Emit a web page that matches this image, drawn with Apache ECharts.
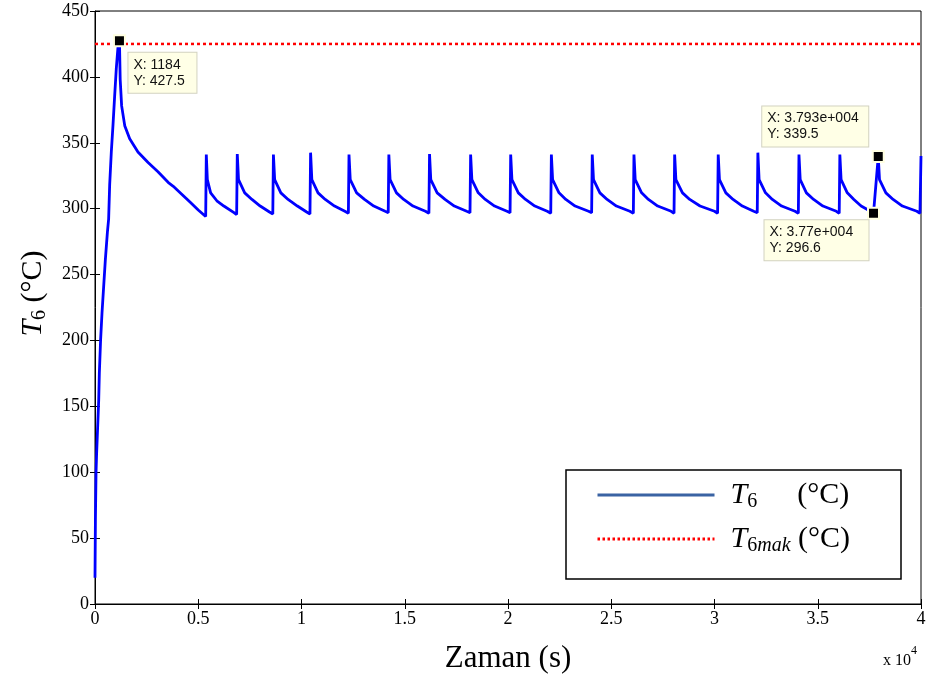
<!DOCTYPE html>
<html>
<head>
<meta charset="utf-8">
<script src="https://cdn.jsdelivr.net/npm/echarts@6/dist/echarts.min.js"></script>
<style>
  html, body { margin: 0; padding: 0; background: #fff; }
  #chart { width: 932px; height: 679px; }
</style>
</head>
<body>
<div id="chart"></div>
<script>
// start-up: time (s) and T6 (°C)
const startupTime = [0, 20, 50, 80, 130, 180, 210, 270, 340, 420, 500, 600, 660, 710, 790, 870, 950, 1030, 1110, 1184,
  1220, 1290, 1440, 1680, 2080, 2570, 3050, 3540, 3790, 4200, 4600, 5000, 5360]
const startupTemp = [20, 64, 100, 115, 135, 155, 175, 200, 221, 241, 261, 282, 292, 318, 343, 363, 385, 406, 422, 427.5,
  398, 378, 363, 353, 343, 335, 328, 320, 317, 311, 305, 299, 294]

// periodic part, one row per spike
const cycleTime = [
  [5390, 5440, 5600, 5900, 6240, 6730, 6860],
  [6890, 6950, 7250, 7600, 8000, 8450, 8610],
  [8640, 8700, 9000, 9350, 9800, 10250, 10410],
  [10440, 10500, 10800, 11150, 11600, 12100, 12270],
  [12300, 12360, 12670, 13050, 13500, 14050, 14200],
  [14230, 14290, 14600, 14950, 15400, 16000, 16170],
  [16200, 16260, 16570, 16950, 17400, 18000, 18160],
  [18190, 18250, 18560, 18900, 19350, 19950, 20100],
  [20130, 20190, 20500, 20850, 21300, 21900, 22070],
  [22100, 22160, 22470, 22800, 23250, 23900, 24050],
  [24080, 24140, 24450, 24800, 25250, 25900, 26070],
  [26100, 26160, 26470, 26800, 27250, 27900, 28040],
  [28070, 28130, 28450, 28800, 29300, 30000, 30150],
  [30180, 30240, 30550, 30900, 31350, 31900, 32070],
  [32100, 32160, 32470, 32800, 33250, 33900, 34060],
  [34090, 34150, 34450, 34800, 35250, 35900, 36040],
  [36070, 36130, 36430, 36750, 37100, 37550, 37700],
  [37930, 37990, 38300, 38650, 39100, 39800, 39950],
  [40000]
]
const cycleTemp = [
  [341, 322, 312, 306, 302, 297, 295.5],
  [341.5, 322, 312, 307, 302, 297.5, 296],
  [341, 322, 312, 307, 302, 297.5, 296],
  [342.5, 322, 312, 307, 302, 298, 296.5],
  [341, 322, 312, 307, 302, 298, 297],
  [341, 322, 312, 307, 302, 298, 296.5],
  [341.5, 322, 312, 307, 302, 298, 297],
  [341, 322, 312, 307, 302, 298, 297],
  [341, 322, 312, 307, 302, 298, 296.5],
  [341, 322, 312, 307, 302, 298, 297],
  [341, 322, 312, 307, 302, 298, 296.5],
  [341, 322, 312, 307, 302, 298, 296.5],
  [341, 322, 312, 307, 302, 298, 296.5],
  [341, 322, 312, 307, 302, 298, 297],
  [342.5, 322, 312, 307, 302, 298, 296.5],
  [341, 322, 312, 307, 302, 298, 296.5],
  [341, 322, 312, 307, 302, 298, 296.6],
  [339.5, 322, 312, 307, 302, 298, 296.5],
  [340]
]

const t6MaxLimit = 425
const dataTips = [[1184, 427.5], [37930, 339.5], [37700, 296.6]]
const xTickLabels = ['0', '0.5', '1', '1.5', '2', '2.5', '3', '3.5', '4']

const serif = 'Liberation Serif'

function buildSeries() {
  const pts = startupTime.map((t, i) => [t, startupTemp[i]])
  cycleTime.forEach((row, r) => {
    row.forEach((t, i) => pts.push([t, cycleTemp[r][i]]))
  })
  return pts
}

// matlab style number for datatips
function matlabNum(v) {
  if (Math.abs(v) >= 1e4) {
    let [m, e] = v.toExponential(3).split('e')
    m = m.replace(/0+$/, '').replace(/\.$/, '')
    return m + 'e' + e[0] + e.slice(1).padStart(3, '0')
  }
  return String(v)
}

// box placement next to each marker (width is the text area)
const tipLabelPos = [
  { position: [15.5, 18.5], verticalAlign: 'top', width: 55 },
  { position: [-109.5, -3.5], verticalAlign: 'bottom', width: 93 },
  { position: [-102.5, 13.5], verticalAlign: 'top', width: 91 }
]

const subRich = {
  t: { fontFamily: serif, fontStyle: 'italic', fontSize: 30, lineHeight: 34, color: '#000' },
  s: { fontFamily: serif, fontSize: 20, lineHeight: 20, verticalAlign: 'bottom', color: '#000' },
  m: { fontFamily: serif, fontStyle: 'italic', fontSize: 20, lineHeight: 20, verticalAlign: 'bottom', color: '#000' },
  u: { fontFamily: serif, fontSize: 30, lineHeight: 34, color: '#000' }
}

const chart = echarts.init(document.getElementById('chart'))

const axisTick = { show: true, inside: true, length: 5, lineStyle: { color: '#000', width: 1 } }

chart.setOption({
  animation: false,
  backgroundColor: '#fff',
  grid: {
    left: 95, right: 11, top: 11, bottom: 75,
    show: true, borderColor: '#000', borderWidth: 1, backgroundColor: 'transparent'
  },
  xAxis: [
    {
      type: 'value', min: 0, max: 40000, interval: 5000,
      name: 'Zaman (s)', nameLocation: 'middle', nameGap: 39,
      nameTextStyle: { fontFamily: serif, fontSize: 31, color: '#000' },
      axisLine: { show: true, lineStyle: { color: '#000', width: 1 } },
      axisTick: axisTick,
      axisLabel: {
        color: '#000', fontFamily: serif, fontSize: 18, margin: 6,
        formatter: v => xTickLabels[Math.round(v / 5000)]
      },
      splitLine: { show: false }
    },
    {
      type: 'value', position: 'top', min: 0, max: 40000, interval: 5000,
      axisLine: { show: false }, axisTick: axisTick,
      axisLabel: { show: false }, splitLine: { show: false }
    }
  ],
  yAxis: [
    {
      type: 'value', min: 0, max: 450, interval: 50,
      name: '{t|T}{s|6}{u| (°C)}', nameLocation: 'middle', nameGap: 45,
      nameTextStyle: { padding: [0, 0, 0, 28], rich: subRich },
      axisLine: { show: true, lineStyle: { color: '#000', width: 1 } },
      axisTick: axisTick,
      axisLabel: { color: '#000', fontFamily: serif, fontSize: 18, margin: 6 },
      splitLine: { show: false }
    },
    {
      type: 'value', position: 'right', min: 0, max: 450, interval: 50,
      axisLine: { show: false }, axisTick: axisTick,
      axisLabel: { show: false }, splitLine: { show: false }
    }
  ],
  legend: {
    orient: 'vertical', left: 596, top: 480, z: 20,
    padding: 0, itemWidth: 117, itemHeight: 14, itemGap: 12,
    data: [
      { name: 'T6', lineStyle: { color: '#3a63a3', width: 3, type: 'solid' }, itemStyle: { color: 'rgba(0,0,0,0)', borderWidth: 0 } },
      { name: 'T6mak', lineStyle: { color: '#ff0000', width: 3, type: [2.5, 2.5] }, itemStyle: { color: 'rgba(0,0,0,0)', borderWidth: 0 } }
    ],
    formatter: name => name === 'T6'
      ? '{t|T}{s1|6}{u|(°C)}'
      : '{t|T}{s|6}{m|mak}{u| (°C)}',
    textStyle: {
      rich: Object.assign({}, subRich, {
        t: Object.assign({}, subRich.t, { padding: [0, 0, 0, 11] }),
        s1: Object.assign({}, subRich.s, { width: 50 })
      })
    }
  },
  graphic: [
    {
      type: 'rect', z: 10,
      shape: { x: 566, y: 470, width: 335, height: 109 },
      style: { fill: '#fff', stroke: '#000', lineWidth: 1.5 }
    },
    {
      type: 'text', left: 883, top: 645, z: 10,
      style: {
        text: '{a|x 10}{b|4}',
        rich: {
          a: { fontFamily: serif, fontSize: 16, lineHeight: 24, verticalAlign: 'bottom', fill: '#000' },
          b: { fontFamily: serif, fontSize: 12, lineHeight: 12, verticalAlign: 'top', fill: '#000' }
        }
      }
    }
  ],
  series: [
    {
      name: 'T6', type: 'line', symbol: 'none', z: 3,
      data: buildSeries(),
      lineStyle: { color: '#0000ff', width: 2.8 },
      itemStyle: { color: '#0000ff' },
      markPoint: {
        symbol: 'rect', symbolSize: 11,
        itemStyle: { color: '#000', borderColor: '#ffffe1', borderWidth: 2 },
        label: {
          show: true, align: 'left',
          backgroundColor: '#ffffe6', borderColor: '#d2d2c0', borderWidth: 1,
          padding: [4, 8, 4, 5], color: '#111',
          fontFamily: 'Liberation Sans', fontSize: 14, lineHeight: 16
        },
        data: dataTips.map((p, i) => ({
          coord: p,
          label: Object.assign({ formatter: 'X: ' + matlabNum(p[0]) + '\nY: ' + p[1] }, tipLabelPos[i])
        }))
      }
    },
    {
      name: 'T6mak', type: 'line', symbol: 'none', z: 2,
      data: [[0, t6MaxLimit], [40000, t6MaxLimit]],
      lineStyle: { color: '#ff0000', width: 2.5, type: [3, 3] },
      itemStyle: { color: '#ff0000' }
    }
  ]
})
</script>
</body>
</html>
